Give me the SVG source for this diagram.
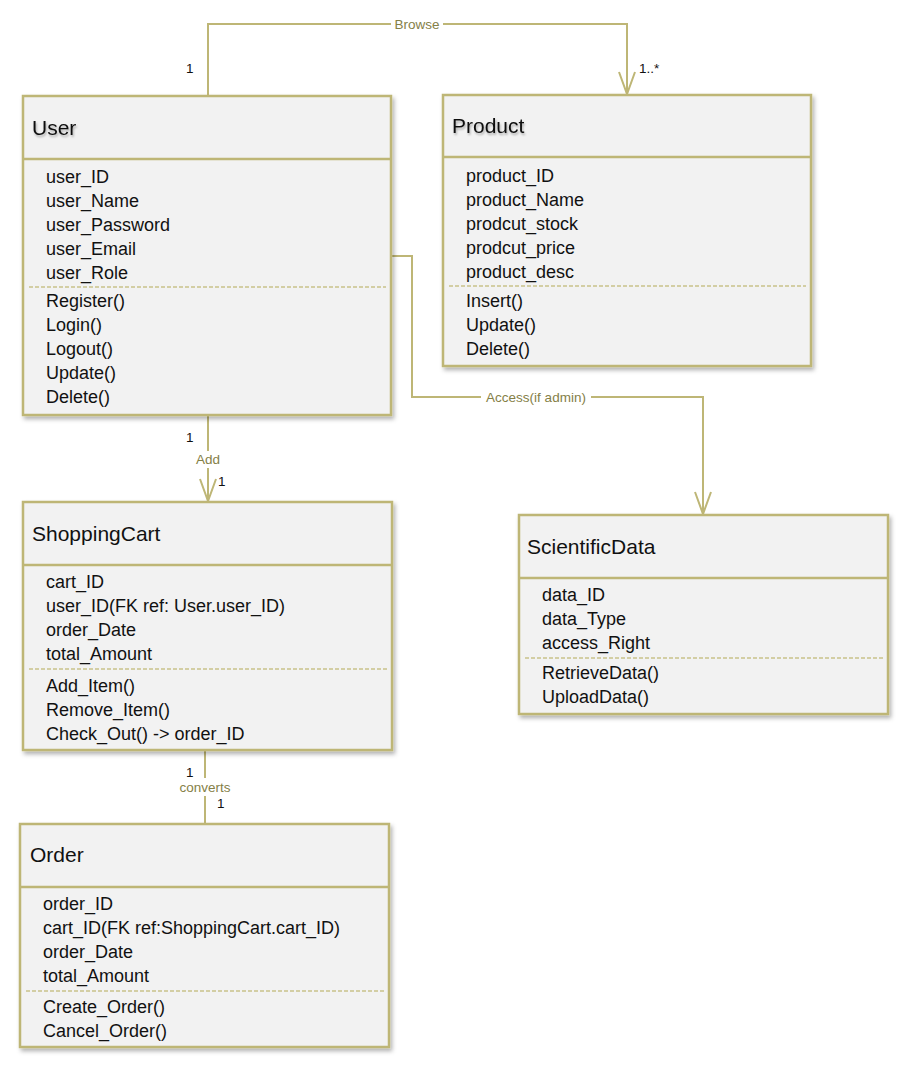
<svg xmlns="http://www.w3.org/2000/svg" width="905" height="1069" viewBox="0 0 905 1069">
<defs>
<filter id="sh" x="-5%" y="-5%" width="112%" height="112%">
<feDropShadow dx="2" dy="3" stdDeviation="2" flood-color="#000" flood-opacity="0.3"/>
</filter>
<filter id="tsh" x="-10%" y="-20%" width="130%" height="160%">
<feDropShadow dx="1" dy="2" stdDeviation="1.2" flood-color="#000" flood-opacity="0.3"/>
</filter>
<marker id="arr" markerUnits="userSpaceOnUse" markerWidth="30" markerHeight="20" viewBox="-24 -10 26 20" refX="0" refY="0" orient="auto">
<path d="M -22 -8 L 0 0 L -22 8" fill="none" stroke="#BEB676" stroke-width="2"/>
</marker>
</defs>
<style>
.box{fill:#F2F2F2;stroke:#BEB676;stroke-width:2.5}
.div{stroke:#BEB676;stroke-width:2.5}
.dash{stroke:#C9C28A;stroke-width:1.5;stroke-dasharray:4 2}
.hd{font-family:"Liberation Sans",Arial,sans-serif;font-size:21px;fill:#111}
.at{font-family:"Liberation Sans",Arial,sans-serif;font-size:18px;fill:#111}
.ln{fill:none;stroke:#BEB676;stroke-width:2}
.lb{font-family:"Liberation Sans",Arial,sans-serif;font-size:13.5px;fill:#858047;text-anchor:middle}
.mu{font-family:"Liberation Sans",Arial,sans-serif;font-size:13.5px;fill:#111}
</style>
<rect width="905" height="1069" fill="#FFFFFF"/>

<g id="connectors">
<path class="ln" d="M 208 96 V 24 H 627 V 94" marker-end="url(#arr)"/>
<rect x="391" y="16" width="52" height="16" fill="#FFFFFF"/>
<text class="lb" x="417" y="29">Browse</text>
<text class="mu" x="186" y="73">1</text>
<text class="mu" x="639" y="73">1..*</text>

<path class="ln" d="M 392 256 H 412 V 397 H 703 V 514" marker-end="url(#arr)"/>
<rect x="481" y="389" width="110" height="16" fill="#FFFFFF"/>
<text class="lb" x="536" y="402">Access(if admin)</text>

<path class="ln" d="M 208 416 V 501" marker-end="url(#arr)"/>
<rect x="192" y="451" width="32" height="17" fill="#FFFFFF"/>
<text class="lb" x="208" y="464">Add</text>
<text class="mu" x="186" y="442">1</text>
<text class="mu" x="218" y="486">1</text>

<path class="ln" d="M 205 751 V 823"/>
<rect x="175" y="778" width="60" height="18" fill="#FFFFFF"/>
<text class="lb" x="205" y="792">converts</text>
<text class="mu" x="186" y="777">1</text>
<text class="mu" x="217" y="808">1</text>
</g>

<g id="user">
<rect class="box" x="23" y="96" width="368" height="319" filter="url(#sh)"/>
<line class="div" x1="23" y1="159" x2="391" y2="159"/>
<text class="hd" x="32" y="135" filter="url(#tsh)">User</text>
<text class="at" x="46" y="183">user_ID</text>
<text class="at" x="46" y="207">user_Name</text>
<text class="at" x="46" y="231">user_Password</text>
<text class="at" x="46" y="255">user_Email</text>
<text class="at" x="46" y="279">user_Role</text>
<line class="dash" x1="29" y1="287" x2="386" y2="287"/>
<text class="at" x="46" y="307">Register()</text>
<text class="at" x="46" y="331">Login()</text>
<text class="at" x="46" y="355">Logout()</text>
<text class="at" x="46" y="379">Update()</text>
<text class="at" x="46" y="403">Delete()</text>
</g>

<g id="product">
<rect class="box" x="443" y="95" width="368" height="271" filter="url(#sh)"/>
<line class="div" x1="443" y1="157" x2="811" y2="157"/>
<text class="hd" x="452" y="133" filter="url(#tsh)">Product</text>
<text class="at" x="466" y="182">product_ID</text>
<text class="at" x="466" y="206">product_Name</text>
<text class="at" x="466" y="230">prodcut_stock</text>
<text class="at" x="466" y="254">prodcut_price</text>
<text class="at" x="466" y="278">product_desc</text>
<line class="dash" x1="449" y1="286" x2="806" y2="286"/>
<text class="at" x="466" y="307">Insert()</text>
<text class="at" x="466" y="331">Update()</text>
<text class="at" x="466" y="355">Delete()</text>
</g>

<g id="shoppingcart">
<rect class="box" x="23" y="502" width="369" height="248" filter="url(#sh)"/>
<line class="div" x1="23" y1="565" x2="392" y2="565"/>
<text class="hd" x="32" y="541">ShoppingCart</text>
<text class="at" x="46" y="588">cart_ID</text>
<text class="at" x="46" y="612">user_ID(FK ref: User.user_ID)</text>
<text class="at" x="46" y="636">order_Date</text>
<text class="at" x="46" y="660">total_Amount</text>
<line class="dash" x1="29" y1="669" x2="387" y2="669"/>
<text class="at" x="46" y="692">Add_Item()</text>
<text class="at" x="46" y="716">Remove_Item()</text>
<text class="at" x="46" y="740">Check_Out() -&gt; order_ID</text>
</g>

<g id="scientificdata">
<rect class="box" x="519" y="515" width="369" height="199" filter="url(#sh)"/>
<line class="div" x1="519" y1="578" x2="888" y2="578"/>
<text class="hd" x="527" y="554">ScientificData</text>
<text class="at" x="542" y="601">data_ID</text>
<text class="at" x="542" y="625">data_Type</text>
<text class="at" x="542" y="649">access_Right</text>
<line class="dash" x1="525" y1="658" x2="883" y2="658"/>
<text class="at" x="542" y="679">RetrieveData()</text>
<text class="at" x="542" y="703">UploadData()</text>
</g>

<g id="order">
<rect class="box" x="20" y="824" width="369" height="223" filter="url(#sh)"/>
<line class="div" x1="20" y1="887" x2="389" y2="887"/>
<text class="hd" x="30" y="862">Order</text>
<text class="at" x="43" y="910">order_ID</text>
<text class="at" x="43" y="934">cart_ID(FK ref:ShoppingCart.cart_ID)</text>
<text class="at" x="43" y="958">order_Date</text>
<text class="at" x="43" y="982">total_Amount</text>
<line class="dash" x1="26" y1="991" x2="384" y2="991"/>
<text class="at" x="43" y="1013">Create_Order()</text>
<text class="at" x="43" y="1037">Cancel_Order()</text>
</g>
</svg>
